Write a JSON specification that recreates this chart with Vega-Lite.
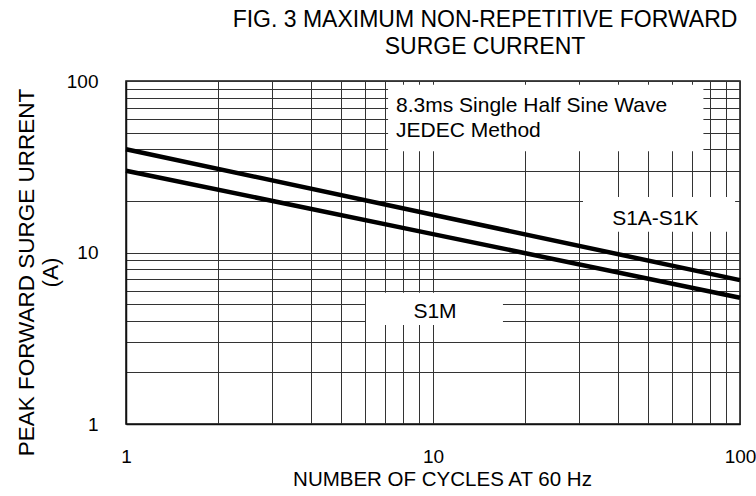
{
  "$schema": "https://vega.github.io/schema/vega-lite/v6.json",
  "width": 614,
  "height": 343,
  "autosize": {"type": "none"},
  "padding": {"left": 126, "top": 81, "right": 16, "bottom": 72},
  "background": "white",
  "title": {
    "text": ["FIG. 3 MAXIMUM  NON-REPETITIVE FORWARD", "SURGE CURRENT"],
    "anchor": "middle",
    "dx": 52,
    "offset": 13,
    "fontSize": 23,
    "lineHeight": 27,
    "font": "Liberation Sans",
    "fontWeight": "normal",
    "color": "black"
  },
  "datasets": {
    "curves": [
      {"series": "S1A-S1K", "cycles": 1, "current": 40},
      {"series": "S1A-S1K", "cycles": 10, "current": 16.6},
      {"series": "S1A-S1K", "cycles": 100, "current": 6.9},
      {"series": "S1M", "cycles": 1, "current": 30},
      {"series": "S1M", "cycles": 10, "current": 12.8},
      {"series": "S1M", "cycles": 100, "current": 5.45}
    ],
    "boxes": [
      {"name": "method", "x1": 7.14, "x2": 76, "y1": 39, "y2": 95},
      {"name": "S1A-S1K", "x1": 30.8, "x2": 96.4, "y1": 13.2, "y2": 21.1},
      {"name": "S1M", "x1": 6.05, "x2": 16.9, "y1": 3.78, "y2": 5.83}
    ],
    "notes": [
      {"text": "8.3ms Single Half Sine Wave", "x": 7.58, "y": 65.7, "kind": "left"},
      {"text": "JEDEC Method", "x": 7.58, "y": 46.9, "kind": "left"},
      {"text": "S1A-S1K", "x": 53, "y": 15.7, "kind": "center"},
      {"text": "S1M", "x": 10.15, "y": 4.5, "kind": "center"}
    ]
  },
  "layer": [
    {
      "data": {"name": "boxes"},
      "mark": {"type": "rect", "fill": "white", "stroke": null},
      "encoding": {
        "x": {
          "field": "x1", "type": "quantitative",
          "title": "NUMBER OF CYCLES AT 60 Hz",
          "scale": {"type": "log", "domain": [1, 100], "nice": false},
          "axis": {
            "values": [1,2,3,4,5,6,7,8,9,10,20,30,40,50,60,70,80,90,100],
            "labelExpr": "datum.value == 1 || datum.value == 10 || datum.value == 100 ? format(datum.value, 'd') : ''",
            "grid": true, "gridColor": "#333", "gridWidth": 1,
            "ticks": false,
            "domainColor": "#111", "domainWidth": 1.5,
            "labelFont": "Liberation Sans", "labelFontSize": 19, "labelColor": "black",
            "labelPadding": 23, "labelFlush": false, "labelOverlap": false,
            "title": "NUMBER OF CYCLES AT 60 Hz",
            "titleFont": "Liberation Sans", "titleFontSize": 20.5, "titleFontWeight": "normal", "titleColor": "black",
            "titleX": 316, "titleY": 61, "titleBaseline": "alphabetic", "titleAlign": "center"
          }
        },
        "x2": {"field": "x2"},
        "y": {
          "field": "y1", "type": "quantitative",
          "title": ["PEAK FORWARD SURGE URRENT", "(A)"],
          "scale": {"type": "log", "domain": [1, 100], "nice": false},
          "axis": {
            "values": [1,2,3,4,5,6,7,8,9,10,20,30,40,50,60,70,80,90,100],
            "labelExpr": "datum.value == 1 || datum.value == 10 || datum.value == 100 ? format(datum.value, 'd') : ''",
            "grid": true, "gridColor": "#333", "gridWidth": 1,
            "ticks": false,
            "domainColor": "#111", "domainWidth": 1.5,
            "labelFont": "Liberation Sans", "labelFontSize": 19, "labelColor": "black",
            "labelPadding": 28, "labelFlush": false, "labelOverlap": false,
            "title": ["PEAK FORWARD SURGE URRENT", "(A)"],
            "titleFont": "Liberation Sans", "titleFontSize": 22.5, "titleFontWeight": "normal", "titleColor": "black",
            "titleX": -93, "titleY": 191, "titleBaseline": "alphabetic", "titleAlign": "center", "titleAngle": -90,
            "titleLineHeight": 24
          }
        },
        "y2": {"field": "y2"}
      }
    },
    {
      "data": {"name": "curves"},
      "mark": {"type": "line", "color": "black", "strokeWidth": 4.5, "strokeCap": "butt"},
      "encoding": {
        "x": {"field": "cycles", "type": "quantitative"},
        "y": {"field": "current", "type": "quantitative"},
        "detail": {"field": "series", "type": "nominal"}
      }
    },
    {
      "data": {"name": "notes"},
      "transform": [{"filter": "datum.kind == 'left'"}],
      "mark": {"type": "text", "align": "left", "baseline": "alphabetic", "font": "Liberation Sans", "fontSize": 21, "color": "black"},
      "encoding": {
        "x": {"field": "x", "type": "quantitative"},
        "y": {"field": "y", "type": "quantitative"},
        "text": {"field": "text"}
      }
    },
    {
      "data": {"name": "notes"},
      "transform": [{"filter": "datum.kind == 'center'"}],
      "mark": {"type": "text", "align": "center", "baseline": "middle", "font": "Liberation Sans", "fontSize": 21, "color": "black"},
      "encoding": {
        "x": {"field": "x", "type": "quantitative"},
        "y": {"field": "y", "type": "quantitative"},
        "text": {"field": "text"}
      }
    }
  ],
  "config": {
    "view": {"stroke": "#111", "strokeWidth": 1.5},
    "font": "Liberation Sans"
  }
}
